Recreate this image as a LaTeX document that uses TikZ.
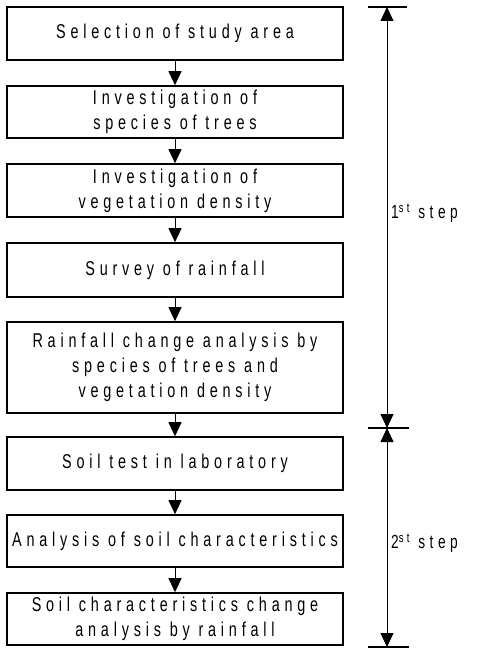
\documentclass[tikz,border=0pt]{standalone}
\usepackage{fontspec}
\newfontfamily\boxfont[FakeStretch=0.72,LetterSpace=24]{Liberation Sans}
\usetikzlibrary{arrows.meta}
\begin{document}
\begin{tikzpicture}[x=1pt,y=-1pt,
  stepbox/.style={draw,line width=1.6pt,minimum width=336pt,inner sep=0pt,align=center,
    font=\boxfont\fontsize{20}{25}\selectfont},
  flow/.style={line width=1pt,-{Triangle[width=13pt,length=14pt]}},
  dim/.style={line width=0.8pt,{Triangle[width=13pt,length=14pt]}-{Triangle[width=13pt,length=14pt]}},
  tick/.style={line width=1.2pt},
  steplabel/.style={anchor=west,inner sep=0pt,font=\boxfont\fontsize{19}{22}\selectfont}]
\useasboundingbox (0,0) rectangle (478,650);
\node[stepbox,minimum height=53pt] (b1) at (175,33.5) {Selection of study area};
\node[stepbox,minimum height=52pt] (b2) at (175,112) {Investigation of\\species of trees};
\node[stepbox,minimum height=53pt] (b3) at (175,190.5) {Investigation of\\vegetation density};
\node[stepbox,minimum height=54pt] (b4) at (175,270) {Survey of rainfall};
\node[stepbox,minimum height=91pt] (b5) at (175,367.5) {Rainfall change analysis by\\species of trees and\\vegetation density};
\node[stepbox,minimum height=53pt] (b6) at (175,463.5) {Soil test in laboratory};
\node[stepbox,minimum height=52pt] (b7) at (175,541) {Analysis of soil characteristics};
\node[stepbox,minimum height=52pt] (b8) at (175,619) {Soil characteristics change\\analysis by rainfall};
\foreach \a/\b in {b1/b2,b2/b3,b3/b4,b4/b5,b5/b6,b6/b7,b7/b8}
  \draw[flow] (\a.south) -- (\b.north);
\coordinate (t1) at (387,7);
\coordinate (t2) at (387,428);
\coordinate (t3) at (387,647);
\draw[tick] (368,7) -- (407,7);
\draw[tick] (368,428) -- (409,428);
\draw[tick] (368,647) -- (409,647);
\draw[dim] (t2) -- (t1);
\draw[dim] (t2) -- (t3);
\node[steplabel] (l1) at (391,213) {1\textsuperscript{st} step};
\node[steplabel] (l2) at (391,543) {2\textsuperscript{st} step};
\end{tikzpicture}
\end{document}
